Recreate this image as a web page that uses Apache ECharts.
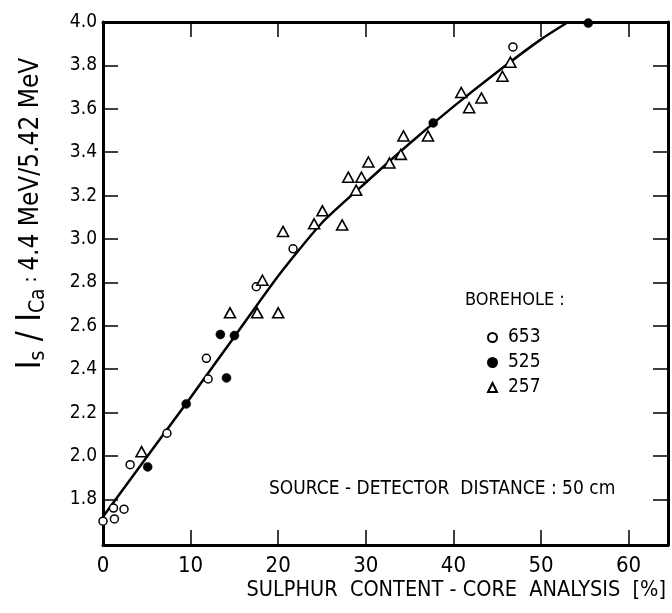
<!DOCTYPE html>
<html>
<head>
<meta charset="utf-8">
<script src="https://cdn.jsdelivr.net/npm/echarts@6/dist/echarts.min.js"></script>
<style>
  html, body { margin: 0; padding: 0; background: #fff; }
  #main { width: 672px; height: 613px; }
</style>
</head>
<body>
<div id="main"></div>
<script>
var pts653 = [[0, 1.70], [1.2, 1.76], [1.3, 1.71], [2.4, 1.755], [3.1, 1.96], [7.3, 2.105],
    [11.8, 2.45], [12.0, 2.355], [17.5, 2.78], [21.7, 2.955], [46.8, 3.885]];
var pts525 = [[5.1, 1.95], [9.5, 2.24], [13.4, 2.56], [14.1, 2.36], [15.0, 2.555],
    [37.7, 3.535], [55.4, 3.995]];
var pts257 = [[4.4, 2.02], [14.5, 2.66], [17.6, 2.66], [18.2, 2.81], [20.0, 2.66], [20.55, 3.035],
    [24.1, 3.07], [25.05, 3.13], [27.3, 3.065], [28.0, 3.285], [28.9, 3.225], [29.5, 3.285],
    [30.3, 3.355], [32.7, 3.35], [34.0, 3.39], [34.3, 3.475], [37.1, 3.475], [40.9, 3.675],
    [41.8, 3.605], [43.2, 3.65], [45.6, 3.75], [46.5, 3.815]];
// fitted curve, read every 5 %
var fitLine = [[0, 1.72], [5, 1.995], [10, 2.27], [15, 2.55], [20, 2.83], [25, 3.075],
    [30, 3.26], [35, 3.44], [40, 3.61], [45, 3.77], [50, 3.92], [53.1, 4.0]];

var xTicks = [0, 10, 20, 30, 40, 50, 60];
var yTicks = [1.8, 2.0, 2.2, 2.4, 2.6, 2.8, 3.0, 3.2, 3.4, 3.6, 3.8, 4.0];

var font = "'Liberation Sans Narrow', 'DejaVu Sans Condensed', 'Liberation Sans', sans-serif";

var myChart = echarts.init(document.getElementById('main'), null, { renderer: 'canvas' });

var frameLine = { show: true, onZero: false, lineStyle: { color: '#000', width: 3 } };

var option = {
    backgroundColor: '#fff',
    animation: false,
    textStyle: { fontFamily: font, color: '#000' },
    grid: { left: 103, right: 4, top: 22, bottom: 68 },
    title: [
        {
            text: 'SULPHUR  CONTENT - CORE  ANALYSIS  [%]',
            right: 1, top: 574,
            textStyle: { fontFamily: font, fontSize: 21.5, fontWeight: 'normal', color: '#000' }
        },
        {
            text: 'BOREHOLE :',
            left: 460, top: 286,
            textStyle: { fontFamily: font, fontSize: 18, fontWeight: 'normal', color: '#000' }
        },
        {
            text: 'SOURCE - DETECTOR  DISTANCE : 50 cm',
            left: 264, top: 475,
            textStyle: { fontFamily: font, fontSize: 19, fontWeight: 'normal', color: '#000' }
        }
    ],
    legend: {
        orient: 'vertical',
        left: 482, top: 323,
        itemWidth: 9, itemHeight: 9,
        itemGap: 6,
        data: ['653', '525', '257'],
        textStyle: { fontFamily: font, fontSize: 19, color: '#000', padding: [0, 0, 0, 6] }
    },
    xAxis: [
        {
            type: 'value', min: 0, max: 64.5, position: 'bottom',
            axisLine: frameLine,
            axisTick: { inside: true, length: 15, lineStyle: { color: '#000', width: 1.5 }, customValues: xTicks },
            axisLabel: { fontFamily: font, fontSize: 22, color: '#000', margin: 10, customValues: xTicks },
            splitLine: { show: false }
        },
        {
            type: 'value', min: 0, max: 64.5, position: 'top',
            axisLine: frameLine,
            axisTick: { inside: true, length: 15, lineStyle: { color: '#000', width: 1.5 }, customValues: xTicks.slice(1) },
            axisLabel: { show: false },
            splitLine: { show: false }
        }
    ],
    yAxis: [
        {
            type: 'value', min: 1.59, max: 4.0, position: 'left',
            axisLine: frameLine,
            axisTick: { inside: true, length: 15, lineStyle: { color: '#000', width: 1.5 }, customValues: yTicks },
            axisLabel: {
                fontFamily: font, fontSize: 19, color: '#000', margin: 6, customValues: yTicks,
                formatter: function (v) { return v.toFixed(1); }
            },
            splitLine: { show: false },
            name: '{i|I}{sub|s}{i| / I}{sub|Ca}{c| : }{t|4.4 MeV/5.42 MeV}',
            nameLocation: 'middle',
            nameGap: 54,
            nameTextStyle: {
                fontFamily: font,
                padding: [0, 0, 0, 140],
                rich: {
                    i: { fontFamily: font, fontSize: 33, lineHeight: 36, color: '#000' },
                    sub: { fontFamily: font, fontSize: 21, lineHeight: 8, verticalAlign: 'bottom', color: '#000' },
                    c: { fontFamily: font, fontSize: 20, lineHeight: 36, color: '#000' },
                    t: { fontFamily: font, fontSize: 26, lineHeight: 36, color: '#000' }
                }
            }
        },
        {
            type: 'value', min: 1.59, max: 4.0, position: 'right',
            axisLine: frameLine,
            axisTick: { inside: true, length: 15, lineStyle: { color: '#000', width: 1.5 }, customValues: yTicks },
            axisLabel: { show: false },
            splitLine: { show: false }
        }
    ],
    series: [
        {
            name: 'fit',
            type: 'line',
            data: fitLine,
            smooth: 0.2,
            showSymbol: false,
            lineStyle: { color: '#000', width: 2.5 },
            z: 2
        },
        {
            name: '653',
            type: 'scatter',
            data: pts653,
            symbol: 'circle',
            symbolSize: 8,
            itemStyle: { color: '#fff', borderColor: '#000', borderWidth: 1.5, opacity: 1 },
            z: 3
        },
        {
            name: '525',
            type: 'scatter',
            data: pts525,
            symbol: 'circle',
            symbolSize: 9,
            itemStyle: { color: '#000', borderColor: '#000', borderWidth: 0.5, opacity: 1 },
            z: 3
        },
        {
            name: '257',
            type: 'scatter',
            data: pts257,
            symbol: 'triangle',
            symbolSize: [11, 10],
            itemStyle: { color: '#fff', borderColor: '#000', borderWidth: 1.6, opacity: 1 },
            z: 3
        }
    ]
};

option && myChart.setOption(option);
</script>
</body>
</html>
